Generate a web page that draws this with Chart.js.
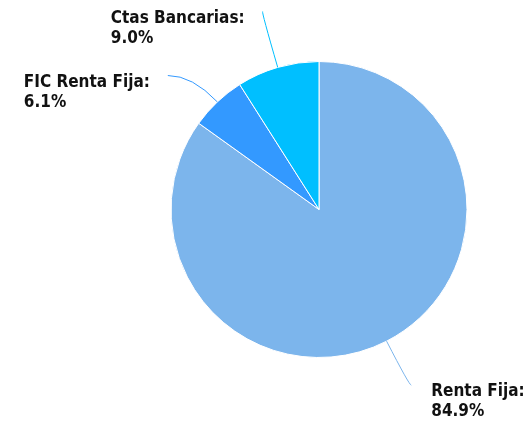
<!DOCTYPE html>
<html>
<head>
<meta charset="utf-8">
<script src="https://cdn.jsdelivr.net/npm/chart.js@4/dist/chart.umd.min.js"></script>
<style>
html,body{margin:0;padding:0;background:#fff;}
#wrap{width:528px;height:424px;}
</style>
</head>
<body>
<div id="wrap"><canvas id="c" width="528" height="424"></canvas></div>
<script>
const categories = ['Renta Fija', 'FIC Renta Fija', 'Ctas Bancarias'];
const values = [84.9, 6.1, 9.0];
const sliceColors = ['#7cb5ec', '#3399ff', '#00bfff'];

const labelFont = 'bold 17px "DejaVu Sans Condensed", "DejaVu Sans", sans-serif';

const pieLabels = {
  id: 'pieLabels',
  afterDatasetsDraw(chart) {
    const ctx = chart.ctx;
    const meta = chart.getDatasetMeta(0);
    const labelR = 54;     // label distance beyond the rim
    const minGap = 64;     // min vertical spacing between labels on a side
    const items = meta.data.map((arc, i) => {
      const a = (arc.startAngle + arc.endAngle) / 2;
      const r = arc.outerRadius;
      const cx = arc.x, cy = arc.y;
      const side = Math.cos(a) < 0 ? -1 : 1;
      const R = r + labelR;
      return {i, a, r, cx, cy, side, R,
        ex: cx + Math.cos(a) * R,
        ey: cy + Math.sin(a) * R - 4};
    });
    [-1, 1].forEach(s => {
      const arr = items.filter(o => o.side === s).sort((p, q) => p.ey - q.ey);
      for (let k = 1; k < arr.length; k++) {
        if (arr[k].ey < arr[k-1].ey + minGap) {
          arr[k].ey = arr[k-1].ey + minGap;
          const dy = arr[k].ey - arr[k].cy;
          arr[k].ex = arr[k].cx + s * Math.sqrt(Math.max(arr[k].R * arr[k].R - dy * dy, 0));
        }
      }
    });
    ctx.save();
    items.forEach(o => {
      const ca = Math.cos(o.a), sa = Math.sin(o.a);
      const tx = o.cx + ca * o.r, ty = o.cy + sa * o.r;
      // control point: radial line from rim meets the horizontal through the label end
      let t = Math.abs(sa) > 0.2 ? (o.ey - ty) / sa : 20;
      t = Math.max(0, t);
      let qx = tx + ca * t, qy = ty + sa * t;
      if (Math.abs(sa) > 0.2) qy = o.ey;
      ctx.strokeStyle = sliceColors[o.i];
      ctx.lineWidth = 1;
      ctx.beginPath();
      ctx.moveTo(tx, ty);
      ctx.quadraticCurveTo(qx, qy, o.ex, o.ey);
      ctx.stroke();

      ctx.font = labelFont;
      ctx.fillStyle = '#111';
      ctx.textBaseline = 'alphabetic';
      ctx.textAlign = 'left';
      const l1 = categories[o.i] + ':';
      const l2 = values[o.i].toFixed(1) + '%';
      const w = Math.max(ctx.measureText(l1).width, ctx.measureText(l2).width);
      const x0 = o.side < 0 ? o.ex - 18 - w : o.ex + 20;
      ctx.fillText(l1, x0, o.ey + 11);
      ctx.fillText(l2, x0, o.ey + 31);
    });
    ctx.restore();
  }
};

new Chart(document.getElementById('c'), {
  type: 'pie',
  data: {
    labels: categories,
    datasets: [{
      data: values,
      backgroundColor: sliceColors,
      borderColor: '#ffffff',
      borderWidth: 1,
      hoverOffset: 0,
      offset: 0
    }]
  },
  options: {
    responsive: false,
    animation: false,
    events: [],
    layout: {padding: {left: 170, right: 60, top: 61, bottom: 66}},
    plugins: {legend: {display: false}, tooltip: {enabled: false}}
  },
  plugins: [pieLabels]
});
</script>
</body>
</html>
